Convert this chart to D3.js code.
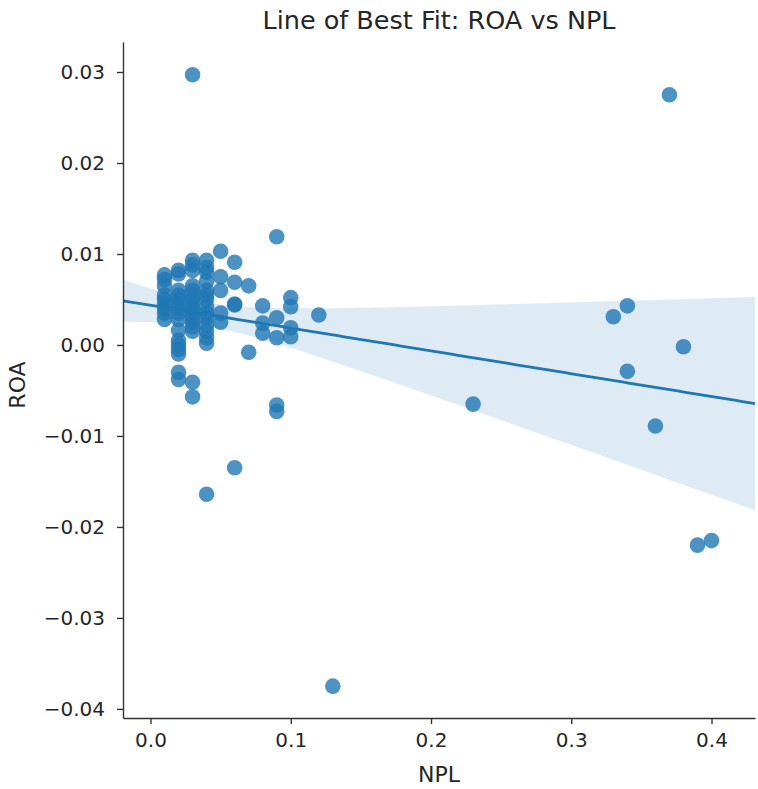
<!DOCTYPE html>
<html>
<head>
<meta charset="utf-8">
<script src="https://cdn.jsdelivr.net/npm/d3@7"></script>
<style>
  body { margin: 0; background: #fff; }
  text { font-family: "DejaVu Sans", sans-serif; fill: #262626; }
</style>
</head>
<body>
<div id="chart"></div>
<script>
// NPL values (x), grouped by column
var npl = [
  0.01, 0.01, 0.01, 0.01, 0.01, 0.01, 0.01, 0.01, 0.01,
  0.02, 0.02, 0.02, 0.02, 0.02, 0.02, 0.02, 0.02, 0.02, 0.02, 0.02, 0.02, 0.02, 0.02, 0.02, 0.02,
  0.03, 0.03, 0.03, 0.03, 0.03, 0.03, 0.03, 0.03, 0.03, 0.03, 0.03, 0.03, 0.03, 0.03, 0.03, 0.03, 0.03,
  0.04, 0.04, 0.04, 0.04, 0.04, 0.04, 0.04, 0.04, 0.04, 0.04, 0.04, 0.04, 0.04, 0.04, 0.04,
  0.05, 0.05, 0.05, 0.05, 0.05,
  0.06, 0.06, 0.06, 0.06, 0.06,
  0.07, 0.07,
  0.08, 0.08, 0.08,
  0.09, 0.09, 0.09, 0.09, 0.09,
  0.10, 0.10, 0.10, 0.10,
  0.12, 0.13, 0.23, 0.33, 0.34, 0.34, 0.36, 0.37, 0.38, 0.39, 0.40
];
// ROA values (y), same order
var roa = [
  0.0077, 0.0072, 0.0065, 0.0055, 0.0050, 0.0045, 0.0040, 0.0035, 0.0028,
  0.0082, 0.0078, 0.0060, 0.0055, 0.0050, 0.0045, 0.0040, 0.0035, 0.0028, 0.0016, 0.0005, 0.0000, -0.0005, -0.0010, -0.0030, -0.0038,
  0.0093, 0.0088, 0.0082, 0.0065, 0.0060, 0.0055, 0.0050, 0.0045, 0.0040, 0.0035, 0.0030, 0.0025, 0.0020, 0.0015, 0.0297, -0.0041, -0.0057,
  0.0093, 0.0085, 0.0080, 0.0070, 0.0060, 0.0055, 0.0050, 0.0042, 0.0035, 0.0030, 0.0022, 0.0015, 0.0008, 0.0002, -0.0164,
  0.0103, 0.0075, 0.0060, 0.0035, 0.0025,
  0.0091, 0.0069, 0.0044, 0.0045, -0.0135,
  0.0065, -0.0008,
  0.0043, 0.0024, 0.0013,
  0.0119, 0.0030, 0.0008, -0.0066, -0.0073,
  0.0052, 0.0042, 0.0019, 0.0009,
  0.0033, -0.0375, -0.0065, 0.0031, 0.0043, -0.0029, -0.0089, 0.0275, -0.0002, -0.0220, -0.0215
];
var xTicks = [0.0, 0.1, 0.2, 0.3, 0.4];
var yTicks = [0.03, 0.02, 0.01, 0.00, -0.01, -0.02, -0.03, -0.04];

var width = 758, height = 789;
var margin = {top: 42, right: 3, bottom: 71, left: 123};
var blue = "#1f77b4";

var svg = d3.select("#chart").append("svg")
  .attr("width", width)
  .attr("height", height);

var x = d3.scaleLinear()
  .domain([-0.0196, 0.431])
  .range([margin.left, width - margin.right]);

var y = d3.scaleLinear()
  .domain([-0.041, 0.0333])
  .range([height - margin.bottom, margin.top]);

// Least squares fit
var n = npl.length;
var mx = d3.mean(npl), my = d3.mean(roa);
var sxx = d3.sum(npl, function (d) { return (d - mx) * (d - mx); });
var sxy = d3.sum(npl, function (d, i) { return (d - mx) * (roa[i] - my); });
var slope = sxy / sxx;
var intercept = my - slope * mx;
var resid = npl.map(function (d, i) { return roa[i] - (intercept + slope * d); });

// 95% band, robust (sandwich) variance - close to a bootstrap over rows
var grid = d3.range(0, 101).map(function (i) {
  var xv = x.domain()[0] + (x.domain()[1] - x.domain()[0]) * i / 100;
  var yv = intercept + slope * xv;
  var v = d3.sum(npl, function (d, j) {
    var w = 1 / n + (xv - mx) * (d - mx) / sxx;
    return w * w * resid[j] * resid[j];
  });
  var se = Math.sqrt(v);
  return {x: xv, y: yv, lo: yv - 1.96 * se, hi: yv + 1.96 * se};
});

svg.append("path")
  .datum(grid)
  .attr("fill", blue)
  .attr("fill-opacity", 0.15)
  .attr("d", d3.area()
    .x(function (d) { return x(d.x); })
    .y0(function (d) { return y(d.lo); })
    .y1(function (d) { return y(d.hi); }));

// Points
svg.append("g")
  .selectAll("circle")
  .data(npl)
  .enter()
  .append("circle")
  .attr("cx", function (d) { return x(d); })
  .attr("cy", function (d, i) { return y(roa[i]); })
  .attr("r", 7.8)
  .attr("fill", blue)
  .attr("fill-opacity", 0.8);

svg.append("path")
  .datum(grid)
  .attr("fill", "none")
  .attr("stroke", blue)
  .attr("stroke-width", 2.8)
  .attr("d", d3.line()
    .x(function (d) { return x(d.x); })
    .y(function (d) { return y(d.y); }));

// Axes
var xAxis = svg.append("g")
  .attr("transform", "translate(0," + (height - margin.bottom) + ")")
  .call(d3.axisBottom(x).tickValues(xTicks).tickFormat(d3.format(".1f"))
    .tickSize(6).tickSizeOuter(0).tickPadding(9));

var yAxis = svg.append("g")
  .attr("transform", "translate(" + margin.left + ",0)")
  .call(d3.axisLeft(y).tickValues(yTicks).tickFormat(function (d) {
    return d3.format(".2f")(d).replace("-", "\u2212");
  }).tickSize(6).tickSizeOuter(0).tickPadding(12));

[xAxis, yAxis].forEach(function (a) {
  a.select(".domain").attr("stroke", "#333").attr("stroke-width", 1.4);
  a.selectAll(".tick line").attr("stroke", "#333").attr("stroke-width", 1.4);
  a.selectAll(".tick text").style("font-size", "20px").attr("fill", "#262626");
});

svg.append("text")
  .attr("x", (margin.left + width - margin.right) / 2)
  .attr("y", 29)
  .attr("text-anchor", "middle")
  .style("font-size", "25.5px")
  .text("Line of Best Fit: ROA vs NPL");

svg.append("text")
  .attr("x", (margin.left + width - margin.right) / 2)
  .attr("y", 782)
  .attr("text-anchor", "middle")
  .style("font-size", "22px")
  .text("NPL");

svg.append("text")
  .attr("transform", "translate(25," + 385 + ") rotate(-90)")
  .attr("text-anchor", "middle")
  .style("font-size", "22px")
  .text("ROA");
</script>
</body>
</html>
